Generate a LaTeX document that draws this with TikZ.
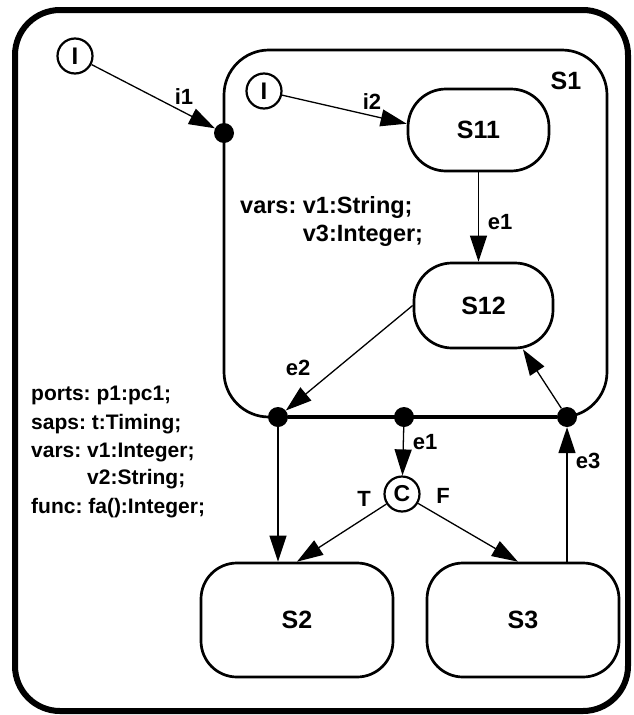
\documentclass[tikz,border=0pt]{standalone}
\usepackage{fontspec}
\setmainfont{Liberation Sans}
\usetikzlibrary{arrows.meta,calc}
% font sizes used in the chart
\newcommand\stfont{\fontsize{25}{30}\selectfont\bfseries}
\newcommand\psfont{\fontsize{24}{28}\selectfont\bfseries}
\newcommand\lblfont{\fontsize{22}{26}\selectfont\bfseries}
\newcommand\declfont{\fontsize{21}{26}\selectfont\bfseries}
\newcommand\indeclfont{\fontsize{23.5}{28}\selectfont\bfseries}
\tikzset{
  frame/.style={line width=6pt, rounded corners=45pt},
  super/.style={line width=2.7pt, rounded corners=45pt},
  stbox/.style={draw, line width=2.7pt, rounded corners=38pt, font=\stfont, inner sep=0pt},
  pseudo/.style={draw, circle, fill=white, line width=2.2pt, minimum size=35pt, inner sep=0pt, font=\psfont},
  dot/.style={circle, fill, minimum size=20pt, inner sep=0pt},
  arr/.style={line width=1.3pt, -{Triangle[length=26pt,width=17pt]}},
  lbl/.style={font=\lblfont, inner sep=0pt},
  decl/.style={font=\declfont, anchor=base west, inner sep=0pt},
  indecl/.style={font=\indeclfont, anchor=base west, inner sep=0pt},
}
\begin{document}
\frenchspacing
\begin{tikzpicture}[x=1pt,y=-1pt]
\useasboundingbox (0,0) rectangle (633,715);

% outer state frame
\draw[frame] (15,10) rectangle (628,711);

% composite state S1
\draw[super] (224,50) rectangle (607,417);
\node[font=\stfont, inner sep=0pt] (S1name) at (566,81) {S1};

% initial pseudostates
\node[pseudo] (I0) at (75,56) {I};
\node[pseudo] (I1) at (264,91) {I};

% substates and top-level states
\node[stbox, minimum width=141pt, minimum height=82pt] (S11) at (478.5,130) {S11};
\node[stbox, minimum width=139pt, minimum height=85pt] (S12) at (483.5,305.5) {S12};
\node[stbox, rounded corners=36pt, minimum width=192pt, minimum height=114pt] (S2) at (297,620) {S2};
\node[stbox, rounded corners=36pt, minimum width=192pt, minimum height=114pt] (S3) at (523,620) {S3};

% choice point
\node[pseudo, font=\fontsize{23}{28}\selectfont\bfseries] (C) at (402,494) {C};

% connection points on the border of S1
\node[dot] (p1) at (224,133) {};
\node[dot] (p2) at (278,417) {};
\node[dot] (p3) at (404,417) {};
\node[dot] (p4) at (567,417) {};
% the lower edge of S1 between its exit points is a little heavier
\draw[line width=3.3pt] (p2) -- (p4);

% transitions
\draw[arr] (I0) -- (p1);
\draw[arr] (I1) -- (S11.175);
\draw[arr] (S11.south) -- (S11.south |- S12.north);
\draw[arr] (S12.west) -- (p2);
\draw[arr] (p2) -- (p2 |- S2.north);
\draw[arr] (p3) -- (C);
\draw[arr] (C) -- (S2.north);
\draw[arr] (C) -- (S3.95);
\draw[arr] (p4 |- S3.north) -- (p4);
\draw[arr] (p4) -- (S12.-48);

% transition labels
\node[lbl] (li1) at (184,97) {i1};
\node[lbl] (li2) at (372,102) {i2};
\node[lbl] (le1a) at (500,222) {e1};
\node[lbl] (le2) at (298,368) {e2};
\node[lbl] (le1b) at (425,442) {e1};
\node[lbl] (le3) at (588,461) {e3};
\node[lbl] (lT) at (364,499) {T};
\node[lbl] (lF) at (443,496) {F};

% declarations of S1
\node[indecl] (d1) at (240,213.5) {vars: v1:String;};
\node[indecl] (d2) at (240,241.5) {\hphantom{vars: }v3:Integer;};

% declarations of the outer state
\node[decl] (o1) at (31,400) {ports: p1:pc1;};
\node[decl] (o2) at (31,429) {saps: t:Timing;};
\node[decl] (o3) at (31,457) {vars: v1:Integer;};
\node[decl] (o4) at (31,484) {\hphantom{vars: }v2:String;};
\node[decl] (o5) at (31,513) {func: fa():Integer;};
\end{tikzpicture}
\end{document}
